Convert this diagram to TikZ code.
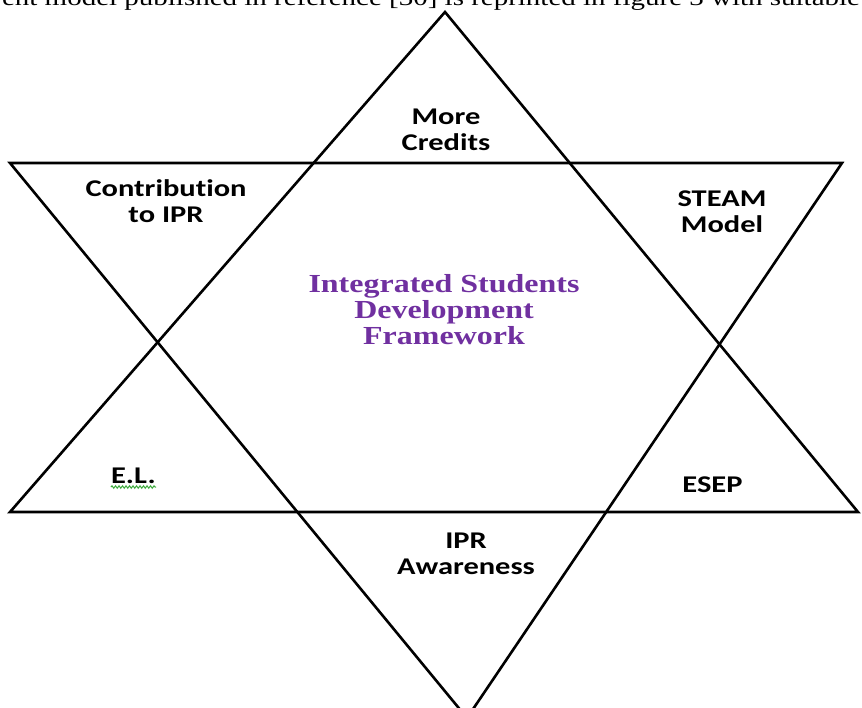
\documentclass[tikz,border=0pt]{standalone}
\usepackage{fontspec}
\usepackage{tikz}
\usetikzlibrary{shapes,calc}
\usetikzlibrary{decorations.pathmorphing,positioning}
\usepackage{xcolor}
\newfontfamily\lblfont{Carlito}[FakeStretch=1.27, Ligatures=NoCommon]
\newfontfamily\ttlfont{Liberation Serif}[FakeStretch=1.23]
\newfontfamily\capfont{Liberation Serif}[FakeStretch=1.26]
\definecolor{isdpurple}{RGB}{112,48,160}
\definecolor{spellgreen}{RGB}{60,170,60}

\begin{document}
\begin{tikzpicture} [x=1pt, y=-1pt,
  star/.style={-, line width=2.6pt, line join=miter},
  lbl/.style={inner sep=1pt, align=center, font=\lblfont\bfseries\fontsize{24}{26}\selectfont},
  ttl/.style={inner sep=1pt, align=center, text=isdpurple, font=\ttlfont\bfseries\fontsize{26}{26}\selectfont}]
\useasboundingbox (0,0) rectangle (862,707);
\clip (0,0) rectangle (862,707);

\node[inner sep=0pt, anchor=base, font=\capfont\fontsize{23}{25}\selectfont] (cap) at (431,5) {ent model published in reference [30] is reprinted in figure 3 with suitable};

\draw[star] (445,12) -- (858,512) -- (10,512) -- cycle;
\draw[star] (10,163) -- (842,163) -- (467,718) -- cycle;

\node[lbl] (credits) at (446,130) {More\\Credits};
\node[lbl] (contrib) at (166,201) {Contribution\\to IPR};
\node[lbl] (steam) at (722,212) {STEAM\\Model};
\node[lbl] (aware) at (466,554) {IPR\\Awareness};
\node[lbl, anchor=base] (el) at (133.5,483) {E.L.};
\node[lbl, anchor=base] (esep) at (712.5,492) {ESEP};

\node[ttl] (isdf) at (444,310) {Integrated Students\\Development\\Framework};

\draw[spellgreen, line width=1pt, decorate, decoration={snake, amplitude=1.2pt, segment length=3.5pt}] (el.base west) ++(1,4) -- ($(el.base east)+(-1,4)$);
\end{tikzpicture}
\end{document}
